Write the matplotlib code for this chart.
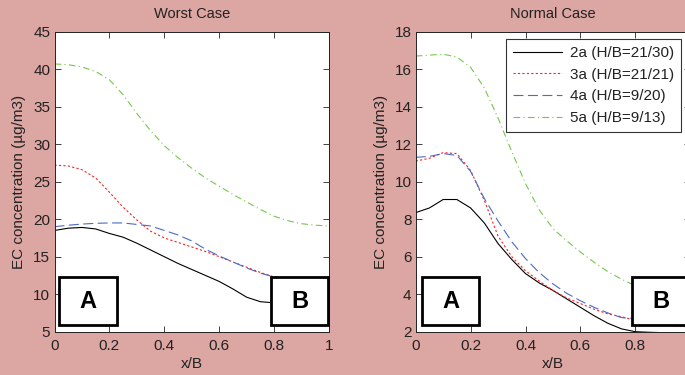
import matplotlib
matplotlib.use("Agg")
import matplotlib.pyplot as plt
from matplotlib.patches import Rectangle

plt.rcParams['font.family'] = ['Liberation Sans', 'DejaVu Sans']

x = [0, 0.05, 0.1, 0.15, 0.2, 0.25, 0.3, 0.35, 0.4, 0.45, 0.5,
     0.55, 0.6, 0.65, 0.7, 0.75, 0.8, 0.85, 0.9, 0.95, 1.0]

labels = ['2a (H/B=21/30)', '3a (H/B=21/21)', '4a (H/B=9/20)', '5a (H/B=9/13)']

worst_2a = [18.5, 18.8, 18.9, 18.7, 18.1, 17.6, 16.8, 15.9, 15.0, 14.1, 13.3,
            12.5, 11.7, 10.7, 9.6, 9.0, 8.85, 8.8, 8.8, 8.8, 8.8]
worst_3a = [27.2, 27.1, 26.6, 25.5, 23.6, 21.6, 19.9, 18.4, 17.5, 16.9, 16.3,
            15.7, 15.0, 14.3, 13.6, 12.9, 12.3, 11.9, 11.6, 11.4, 11.3]
worst_4a = [19.0, 19.2, 19.35, 19.45, 19.5, 19.5, 19.3, 19.1, 18.5, 17.9, 17.1,
            16.0, 15.1, 14.3, 13.5, 12.8, 12.3, 12.0, 11.8, 11.6, 11.5]
worst_5a = [40.7, 40.6, 40.3, 39.7, 38.6, 36.6, 34.1, 31.8, 29.8, 28.2, 26.8,
            25.5, 24.4, 23.3, 22.3, 21.3, 20.4, 19.8, 19.4, 19.2, 19.1]

normal_2a = [8.35, 8.6, 9.05, 9.05, 8.6, 7.8, 6.7, 5.85, 5.1, 4.6, 4.2,
             3.75, 3.3, 2.85, 2.45, 2.15, 2.0, 1.97, 1.95, 1.92, 1.9]
normal_3a = [11.1, 11.25, 11.55, 11.5, 10.6, 9.0, 7.1, 6.0, 5.25, 4.7, 4.2,
             3.8, 3.5, 3.2, 2.95, 2.8, 2.6, 2.45, 2.35, 2.3, 2.25]
normal_4a = [11.3, 11.35, 11.5, 11.4, 10.55, 9.1, 7.9, 6.8, 5.9, 5.15, 4.55,
             4.05, 3.65, 3.3, 3.0, 2.75, 2.7, 2.6, 2.5, 2.45, 2.4]
normal_5a = [16.7, 16.75, 16.8, 16.65, 16.1, 15.0, 13.4, 11.6, 9.9, 8.5, 7.5,
             6.85, 6.25, 5.7, 5.2, 4.8, 4.45, 4.15, 3.9, 3.7, 3.5]

bg = '#DCA6A2'
colors = ['#000000', '#FF2020', '#4A6CC8', '#74C848']
styles = ['-', (0, (2, 2)), (0, (9, 4)), (0, (6, 3, 1, 3))]

fig = plt.figure(figsize=(6.85, 3.75), dpi=100, facecolor=bg)
W, H = 685, 375
ax1 = fig.add_axes([54.5 / W, (H - 331.7) / H, 274.5 / W, 300 / H])
ax2 = fig.add_axes([415.7 / W, (H - 331.7) / H, 274.5 / W, 300 / H])

def style(ax, title, ylim, yticks, xtl):
    ax.set_xlim(0, 1)
    ax.set_ylim(*ylim)
    ax.set_xticks([0, 0.2, 0.4, 0.6, 0.8, 1])
    ax.set_xticklabels(xtl)
    ax.set_yticks(yticks)
    ax.tick_params(direction='in', top=True, right=True, length=4, width=0.6,
                   labelsize=11, colors='#222222')
    ax.tick_params(axis='x', pad=5)
    ax.tick_params(axis='y', pad=3)
    for s in ax.spines.values():
        s.set_linewidth(0.7)
        s.set_color('#222222')
    ax.set_title(title, fontsize=10.5, color='#222222', pad=10)
    ax.set_xlabel('x/B', fontsize=11, color='#222222', labelpad=3)
    ax.set_ylabel('EC concentration (µg/m3)', fontsize=11, color='#222222', labelpad=5)

def boxes(ax, bx):
    for (x0, x1), t in zip(bx, ['A', 'B']):
        r = Rectangle((x0, 0.022), x1 - x0, 0.16, transform=ax.transAxes,
                      facecolor='white', edgecolor='black', lw=2, zorder=5, clip_on=False)
        ax.add_patch(r)
        ax.text((x0 + x1) / 2, 0.102, t, transform=ax.transAxes, ha='center', va='center',
                fontsize=17, fontweight='bold', zorder=6)

for ser, c, ls, lab in zip([worst_2a, worst_3a, worst_4a, worst_5a], colors, styles, labels):
    ax1.plot(x, ser, color=c, linestyle=ls, lw=0.8, label=lab)
for ser, c, ls, lab in zip([normal_2a, normal_3a, normal_4a, normal_5a], colors, styles, labels):
    ax2.plot(x, ser, color=c, linestyle=ls, lw=0.8, label=lab)

style(ax1, 'Worst Case', (5, 45), [5, 10, 15, 20, 25, 30, 35, 40, 45],
      ['0', '0.2', '0.4', '0.6', '0.8', '1'])
style(ax2, 'Normal Case', (2, 18), [2, 4, 6, 8, 10, 12, 14, 16, 18],
      ['0', '0.2', '0.4', '0.6', '0.8', ''])
boxes(ax1, [(0.016, 0.227), (0.789, 0.996)])
boxes(ax2, [(0.023, 0.231), (0.788, 0.996)])

leg = ax2.legend(loc='upper right', bbox_to_anchor=(0.966, 0.975), fontsize=11,
                 frameon=True, fancybox=False, edgecolor='black', handlelength=3.2,
                 borderpad=0.45, labelspacing=0.5, handletextpad=0.5, borderaxespad=0)
leg.get_frame().set_linewidth(0.8)
for t in leg.get_texts():
    t.set_color('#222222')
leg.set_zorder(7)

fig.savefig('out.png', dpi=100, facecolor=bg)
